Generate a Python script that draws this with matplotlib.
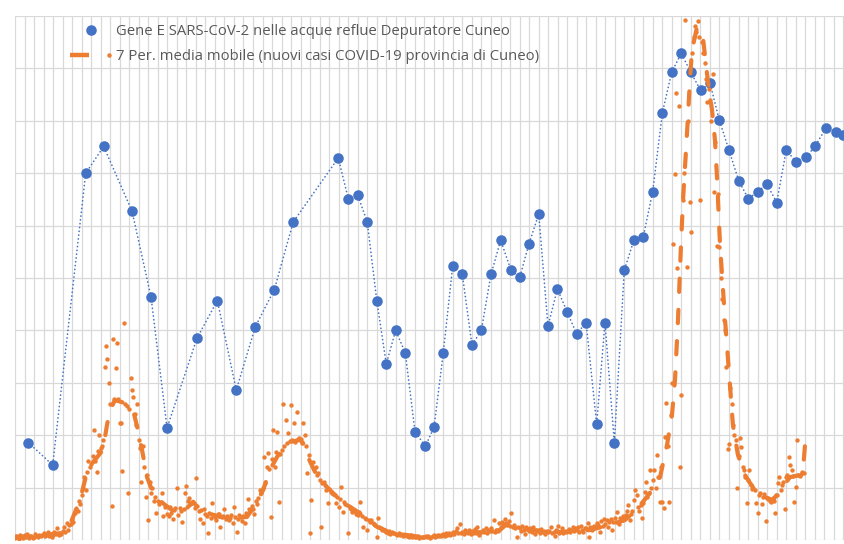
import matplotlib
matplotlib.use("Agg")
import matplotlib.pyplot as plt
from matplotlib.lines import Line2D
from matplotlib.legend_handler import HandlerBase
import numpy as np

BLUE = "#4472C4"
ORANGE = "#ED7D31"
GRID = "#d9d9d9"
TEXT = "#595959"

LABEL_GENE = "Gene E SARS-CoV-2 nelle acque reflue Depuratore Cuneo"
LABEL_MA = "7 Per. media mobile (nuovi casi COVID-19 provincia di Cuneo)"

# campionamenti depuratore (giorno dall'inizio, valore relativo 0-100)
gene_giorni = [9.8, 27.7, 52.0, 65.2, 86.0, 100.0, 111.8, 133.8, 148.8, 162.7,
               176.7, 190.7, 204.6, 237.7, 245.1, 252.0, 259.0, 266.0, 273.0, 279.9,
               287.0, 294.1, 301.7, 308.1, 314.9, 321.8, 328.9, 336.0, 342.9, 350.0,
               357.1, 364.7, 371.1, 377.9, 385.1, 391.9, 398.8, 405.9, 413.0, 419.9,
               427.7, 433.8, 440.7, 448.0, 455.2, 462.0, 468.9, 476.0, 482.9, 489.9,
               496.8, 504.2, 511.0, 517.9, 525.0, 532.1, 539.2, 546.1, 552.9, 560.1,
               567.1, 574.3, 581.4, 588.2, 596.3, 603.5, 608.6]
gene_valori = [18.6, 14.3, 70.0, 75.1, 62.8, 46.4, 21.4, 38.5, 45.7, 28.6,
               40.7, 47.8, 60.7, 72.9, 65.1, 65.8, 60.7, 45.7, 33.6, 40.0,
               35.7, 20.7, 17.9, 21.5, 35.7, 52.2, 50.7, 37.2, 40.0, 50.7,
               57.2, 51.5, 50.1, 56.5, 62.2, 40.8, 47.9, 43.6, 39.3, 41.5,
               22.1, 41.5, 18.6, 51.5, 57.3, 57.9, 66.5, 81.5, 89.3, 92.9,
               89.3, 85.8, 87.2, 80.1, 74.4, 68.6, 65.1, 66.5, 67.9, 64.4,
               74.4, 72.2, 73.0, 75.1, 78.6, 77.9, 77.2]

# nuovi casi giornalieri (una riga per settimana, stessa scala 0-100)
casi_settimane = [
    [0.4, 0.8, 0.5, 0.2, 0.9, 0.6, 0.3],
    [0.9, 0.5, 1.1, 0.4, 0.7, 0.8, 0.3],
    [0.6, 1.2, 0.8, 0.5, 1.0, 0.7, 0.9],
    [1.3, 0.7, 0.9, 1.5, 0.8, 1.1, 0.6],
    [1.0, 1.6, 1.2, 2.3, 0.9, 1.4, 1.1],
    [1.8, 2.5, 1.5, 3.2, 2.0, 2.8, 3.0],
    [4.0, 3.5, 5.2, 6.0, 5.5, 7.5, 6.8],
    [8.5, 10.0, 12.0, 9.5, 13.0, 15.0, 14.0],
    [14.5, 16.0, 21.0, 15.0, 13.0, 17.0, 20.0],
    [17.5, 18.0, 19.0, 33.0, 37.0, 34.5, 30.0],
    [26.0, 6.4, 38.4, 27.0, 32.8, 37.6, 27.0],
    [22.4, 22.4, 13.2, 41.5, 26.0, 25.5, 9.0],
    [25.0, 30.9, 28.6, 27.3, 24.0, 22.0, 26.0],
    [19.0, 17.5, 11.0, 18.0, 14.0, 8.3, 12.5],
    [3.8, 11.1, 9.0, 10.0, 7.5, 8.3, 5.2],
    [7.5, 6.8, 7.2, 9.0, 4.5, 6.3, 6.5],
    [5.0, 4.5, 6.3, 5.2, 4.0, 5.8, 6.1],
    [10.0, 4.8, 6.2, 5.5, 3.5, 5.9, 9.0],
    [10.3, 7.5, 8.0, 6.8, 7.1, 7.3, 6.2],
    [11.8, 6.5, 5.5, 4.0, 5.8, 3.2, 6.0],
    [5.0, 4.6, 1.3, 5.2, 4.2, 7.1, 4.8],
    [4.4, 3.8, 5.0, 4.9, 2.5, 4.3, 4.6],
    [5.9, 4.0, 4.5, 3.9, 4.2, 4.7, 3.3],
    [6.3, 4.4, 1.5, 4.0, 4.8, 4.3, 3.6],
    [4.6, 3.2, 5.1, 7.8, 6.0, 5.5, 6.5],
    [6.0, 5.0, 7.5, 6.8, 8.0, 9.5, 9.0],
    [10.0, 15.8, 10.9, 14.0, 16.6, 13.5, 4.4],
    [15.5, 21.0, 14.0, 16.8, 20.6, 7.3, 16.5],
    [17.2, 26.0, 18.0, 22.9, 18.5, 20.4, 18.8],
    [25.8, 19.0, 22.3, 18.7, 24.4, 19.3, 19.5],
    [19.2, 18.5, 22.3, 20.0, 18.0, 12.8, 16.2],
    [1.3, 7.6, 14.9, 13.5, 14.0, 12.5, 12.8],
    [11.5, 2.5, 10.9, 11.0, 10.5, 9.5, 7.1],
    [9.8, 9.2, 9.0, 8.8, 8.5, 7.1, 8.2],
    [6.3, 7.8, 10.1, 5.3, 7.2, 6.8, 6.6],
    [1.3, 6.2, 6.0, 5.3, 5.8, 5.5, 5.0],
    [4.8, 5.3, 7.3, 4.6, 2.5, 4.2, 4.0],
    [1.9, 3.8, 3.5, 3.8, 3.2, 3.0, 2.8],
    [0.6, 4.2, 2.4, 2.2, 2.0, 1.9, 1.8],
    [1.6, 1.4, 1.7, 1.2, 1.5, 1.3, 1.4],
    [1.2, 0.9, 1.3, 1.0, 1.1, 0.8, 1.0],
    [0.9, 0.7, 0.8, 0.6, 0.9, 0.5, 0.7],
    [0.6, 0.5, 0.7, 0.4, 0.6, 0.5, 0.6],
    [0.5, 0.7, 0.6, 0.8, 0.4, 0.6, 0.7],
    [0.9, 0.6, 0.8, 1.0, 0.7, 0.8, 0.9],
    [1.1, 0.8, 1.3, 1.0, 1.4, 0.9, 1.2],
    [1.5, 1.2, 1.8, 2.3, 1.4, 3.1, 1.3],
    [1.6, 1.2, 1.9, 1.5, 1.3, 2.0, 1.1],
    [1.8, 1.3, 2.1, 1.4, 2.5, 1.0, 1.6],
    [1.5, 2.0, 1.6, 2.2, 1.3, 1.9, 1.7],
    [2.3, 1.8, 3.8, 1.6, 2.0, 1.7, 3.2],
    [2.5, 3.4, 3.0, 4.0, 3.2, 2.8, 3.6],
    [2.6, 5.2, 2.4, 2.9, 2.2, 0.6, 2.5],
    [2.3, 1.8, 2.7, 2.0, 1.1, 2.4, 2.1],
    [1.8, 2.2, 1.5, 2.4, 1.2, 2.0, 1.7],
    [1.9, 1.4, 2.1, 1.6, 1.8, 1.2, 1.7],
    [1.5, 1.8, 2.4, 1.3, 1.6, 0.7, 1.9],
    [2.7, 1.4, 1.6, 2.2, 1.3, 1.7, 1.5],
    [1.8, 2.1, 1.5, 2.0, 2.5, 1.7, 2.2],
    [1.9, 2.4, 1.6, 2.7, 2.0, 1.5, 2.3],
    [2.2, 3.2, 0.6, 2.5, 1.9, 2.4, 2.7],
    [2.4, 3.3, 2.8, 1.5, 3.6, 2.6, 4.0],
    [3.0, 3.8, 2.5, 3.4, 4.0, 1.9, 3.5],
    [4.2, 3.5, 5.3, 3.0, 4.2, 3.9, 4.5],
    [4.0, 4.8, 5.5, 6.7, 3.8, 5.0, 5.5],
    [7.6, 9.5, 8.6, 6.3, 5.5, 6.7, 4.2],
    [7.0, 9.2, 11.1, 8.3, 9.0, 13.4, 10.0],
    [11.5, 13.4, 9.9, 16.2, 12.0, 7.3, 14.0],
    [7.3, 6.2, 19.7, 26.2, 18.0, 7.3, 23.9],
    [30.0, 56.4, 69.9, 85.4, 51.9, 82.8, 13.9],
    [27.7, 64.9, 70.0, 99.2, 52.1, 80.0, 64.5],
    [58.8, 93.0, 96.0, 98.0, 97.0, 99.0, 96.0],
    [64.9, 95.0, 93.0, 91.0, 88.0, 83.5, 86.0],
    [84.0, 80.0, 89.0, 66.5, 76.0, 56.1, 66.0],
    [56.0, 50.0, 46.0, 42.0, 40.0, 33.0, 17.4],
    [18.3, 29.0, 26.0, 22.0, 20.0, 19.0, 9.9],
    [16.0, 19.5, 17.8, 14.0, 13.4, 12.0, 7.1],
    [11.5, 13.4, 10.5, 9.8, 10.0, 9.5, 7.1],
    [5.2, 8.5, 9.0, 6.8, 8.2, 8.8, 3.6],
    [8.0, 7.8, 7.5, 7.2, 8.0, 7.4, 5.2],
    [8.5, 10.8, 12.1, 9.5, 10.5, 11.0, 6.0],
    [12.0, 12.5, 15.9, 14.3, 13.4, 12.2, 7.3],
    [10.2, 19.0, 12.5, 12.3, 12.6, 13.0, 12.8],
]

# media mobile a 7 giorni
media_giorni = [0, 18.4, 33, 40.4, 46.3, 49.3, 53.7, 58.8, 64.7, 67.6, 69.9, 73.5,
                78.7, 83.1, 86.8, 90.4, 93.4, 97.1, 100.7, 104.4, 110.3, 119.1, 125,
                130.9, 136, 143.4, 150.7, 161.8, 170.6, 176.5, 182.4, 187.5, 192.6,
                197.1, 202.2, 209.6, 213.2, 215.4, 220.6, 224.3, 229.4, 235.3, 239,
                247.8, 257.4, 266.2, 275.7, 286.8, 297.8, 312.5, 327.2, 341.9, 356.6,
                361.8, 367.6, 378.7, 389.7, 402.9, 411.8, 422.8, 437.5, 448.5, 454.4,
                461.8, 468.4, 474.3, 479.4, 483.1, 485.3, 487.5, 489.7, 491.2, 493.4,
                494.9, 496.3, 497.8, 501.5, 505.9, 508.1, 510.3, 512.5, 514.7, 516.2,
                518.4, 522.1, 525.7, 527.9, 531.6, 536.8, 540.4, 545.6, 551.5, 557.3,
                562.5, 569.9, 577.2, 579.4, 580.9]
media_valori = [0.6, 0.8, 1.3, 2.9, 6.7, 9.2, 13.7, 15.3, 17.2, 21.9, 24.8, 26.7,
                26.3, 25.8, 24.8, 21.0, 17.2, 12.0, 9.5, 8.0, 6.7, 5.0, 5.7,
                7.3, 5.7, 5.0, 4.4, 4.2, 4.4, 6.7, 9.5, 13.4, 15.8,
                17.6, 18.7, 19.1, 18.1, 15.8, 13.0, 11.5, 10.1, 8.6, 7.6,
                6.1, 4.4, 2.5, 1.5, 1.0, 0.6, 0.8, 1.3, 1.5, 1.9,
                3.1, 2.5, 1.9, 1.7, 1.5, 1.7, 1.9, 2.9, 3.8, 5.2,
                7.3, 9.5, 12.0, 18.1, 23.9, 30.5, 42.0, 56.3, 64.9, 74.4,
                81.1, 87.8, 93.5, 97.9, 95.8, 90.6, 85.9, 82.1, 76.3, 69.1,
                56.3, 42.0, 29.6, 21.9, 16.2, 12.4, 10.9, 9.0, 8.2, 7.6,
                9.5, 12.0, 12.4, 13.4, 18.1]


class DashDotHandler(HandlerBase):
    # legend glyph like Excel: short thick dash followed by a small dot
    def create_artists(self, legend, orig_handle, xdescent, ydescent,
                       width, height, fontsize, trans):
        y = height / 2 - ydescent
        x0 = -xdescent
        line = Line2D([x0, x0 + width * 0.45], [y, y], color=ORANGE, lw=3.2,
                      solid_capstyle="butt", transform=trans)
        dot = Line2D([x0 + width * 0.93], [y], marker="o", ms=3.2, ls="none",
                     color=ORANGE, mew=0, transform=trans)
        return [line, dot]


casi = np.array(casi_settimane).ravel()
casi_giorni = np.arange(len(casi))

fig = plt.figure(figsize=(8.45, 5.44), dpi=100)
ax = fig.add_axes([15 / 845, 4 / 544, 830 / 845, 524 / 544])

ax.plot(gene_giorni, gene_valori, color=BLUE, lw=1.2, ls=(0, (0.1, 2.2)),
        dash_capstyle="round", marker="o", ms=7.6, mew=0, zorder=3, clip_on=False)
ax.scatter(casi_giorni, casi, s=10, color=ORANGE, lw=0, zorder=4)
ax.plot(media_giorni, media_valori, color=ORANGE, lw=3.0, ls=(0, (3.2, 4.3)),
        dash_capstyle="round", zorder=5)

ax.set_xlim(0, 610.3)
ax.set_ylim(0, 100)
ax.set_xticks(np.arange(0, 611, 7))
ax.set_yticks(np.arange(0, 101, 10))
ax.grid(True, color=GRID, lw=0.9)
ax.set_axisbelow(True)
ax.tick_params(length=0, labelbottom=False, labelleft=False)
for s in ax.spines.values():
    s.set_visible(False)

h_gene = Line2D([], [], marker="o", ls="none", color=BLUE, ms=7.6, mew=0)
h_media = Line2D([], [], color=ORANGE)
leg = fig.legend([h_gene, h_media], [LABEL_GENE, LABEL_MA],
                 handler_map={h_media: DashDotHandler()},
                 loc="upper left", bbox_to_anchor=(70 / 845, 1 - 24 / 544),
                 frameon=False, borderpad=0, borderaxespad=0,
                 handlelength=2.8, handletextpad=0.25, labelspacing=0.7,
                 prop={"family": "Open Sans", "size": 10.75})
for t in leg.get_texts():
    t.set_color(TEXT)

fig.savefig("out.png", dpi=100)
